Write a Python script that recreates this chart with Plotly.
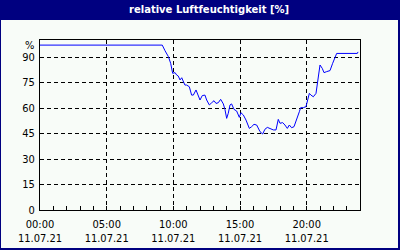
import plotly.graph_objects as go
import pandas as pd

# --- data (hours since 11.07.21 00:00, relative humidity %) ---
hours = [0.0, 9.17, 9.375, 9.55, 9.63, 9.8, 9.88, 9.95, 10.13, 10.25, 10.37, 10.5, 10.63, 10.75,
         10.87, 11.0, 11.2, 11.37, 11.5, 11.7, 11.83, 12.0, 12.17, 12.37, 12.5, 12.7, 12.88,
         13.05, 13.2, 13.37, 13.55, 13.75, 13.87, 14.0, 14.12, 14.25, 14.37, 14.55, 14.75,
         14.95, 15.07, 15.25, 15.45, 15.7, 15.87, 16.05, 16.25, 16.5, 16.7, 16.87, 17.05,
         17.3, 17.5, 17.7, 17.87, 18.0, 18.2, 18.37, 18.55, 18.7, 18.87, 19.05, 19.25, 19.45,
         19.55, 19.75, 19.95, 20.05, 20.2, 20.32, 20.5, 20.7, 20.83, 21.0, 21.17, 21.3, 21.5,
         21.75, 21.95, 22.12, 22.25, 23.8, 23.85]
humidity = [97, 97, 93.7, 91.8, 90.2, 86.3, 83.3, 80.4, 80.8, 79.4, 78.8, 76.5, 77.8, 75.5,
            73.5, 73.5, 72.5, 67.6, 67.6, 70.6, 67.6, 64.7, 67.3, 67.6, 64.7, 61.8, 63.1,
            64.3, 62.7, 63.1, 65.1, 62.4, 59.2, 53.9, 56.9, 61.8, 62.4, 59.2, 58.2,
            54.5, 57.2, 55.9, 52.9, 48.0, 49.0, 50.4, 50.0, 46.1, 44.7, 47.5, 48.6,
            48.0, 47.1, 47.1, 53.3, 51.0, 51.4, 50.0, 48.0, 50.0, 48.4, 49.0, 52.9, 57.8,
            60.2, 60.2, 60.8, 64.7, 68.6, 67.6, 66.6, 68.6, 76.5, 85.3, 83.3, 80.8, 81.4,
            82.0, 86.3, 90.2, 92.1, 92.1, 93.0]

y_ticks = [0, 15, 30, 45, 60, 75, 90]
x_tick_hours = [0, 5, 10, 15, 20]
x_tick_times = ["00:00", "05:00", "10:00", "15:00", "20:00"]
x_tick_dates = ["11.07.21", "11.07.21", "11.07.21", "11.07.21", "11.07.21"]
title = "relative Luftfeuchtigkeit [%]"
unit_label = "%"

base = pd.Timestamp("2021-07-11 00:00")
times = [base + pd.Timedelta(hours=h) for h in hours]
tick_vals = [base + pd.Timedelta(hours=h) for h in x_tick_hours]
x_range = [base, base + pd.Timedelta(hours=24)]

W, H = 400, 250
L, R, T, B = 40, 40, 40, 40
pw, ph = W - L - R, H - T - B

def px_x(px):
    return (px - L) / pw

def px_y(py):
    return (H - B - py) / ph

FONT = "Liberation Sans Narrow, DejaVu Sans Condensed, sans-serif"
BG = "#f8fcf8"
NAVY = "#000080"

fig = go.Figure()
fig.add_trace(go.Scatter(x=times, y=humidity, mode="lines",
                         line=dict(color="#0000ff", width=1, shape="linear"),
                         hoverinfo="skip"))
# invisible trace to activate the date-label axis
fig.add_trace(go.Scatter(x=[times[0]], y=[humidity[0]], xaxis="x2", mode="markers",
                         marker=dict(opacity=0), hoverinfo="skip"))

fig.update_layout(
    width=W, height=H,
    margin=dict(l=L, r=R, t=T, b=B, pad=0, autoexpand=False),
    paper_bgcolor=NAVY,
    plot_bgcolor=BG,
    showlegend=False,
    font=dict(family=FONT, size=11, color="black"),
    shapes=[dict(type="rect", xref="paper", yref="paper", layer="below",
                 x0=px_x(1), x1=px_x(398), y0=px_y(248), y1=px_y(20),
                 fillcolor=BG, line=dict(width=0))],
    annotations=[
        dict(text="<b>" + title + "</b>", xref="paper", yref="paper",
             x=px_x(209), y=px_y(10), xanchor="center", yanchor="middle",
             showarrow=False, font=dict(family="DejaVu Sans, sans-serif", size=10, color="white")),
        dict(text=unit_label, xref="paper", yref="y", x=px_x(36), y=97,
             xanchor="right", yanchor="middle", showarrow=False,
             font=dict(family=FONT, size=11, color="black")),
    ],
    xaxis=dict(
        type="date", range=x_range, automargin=False,
        tickvals=tick_vals, ticktext=x_tick_times,
        ticks="inside", ticklen=4, tickcolor="black", ticklabelstandoff=4,
        minor=dict(dtick=3600000, ticks="inside", ticklen=4, tickcolor="black", showgrid=False),
        showgrid=True, gridcolor="black", griddash="4px,3px", gridwidth=1,
        showline=True, linecolor="black", linewidth=1, mirror=True,
        zeroline=False, fixedrange=True,
    ),
    xaxis2=dict(
        type="date", range=x_range, overlaying="x", anchor="y", side="bottom",
        automargin=False,
        tickvals=tick_vals, ticktext=x_tick_dates,
        ticks="", ticklabelstandoff=20,
        showgrid=False, showline=False, zeroline=False, fixedrange=True,
    ),
    yaxis=dict(
        range=[0, 100], automargin=False,
        tickvals=y_ticks, ticks="", ticklabelstandoff=2,
        showgrid=True, gridcolor="black", griddash="4px,3px", gridwidth=1,
        showline=True, linecolor="black", linewidth=1, mirror=True,
        zeroline=False, fixedrange=True,
    ),
)

fig.write_html("out.html", config={"displayModeBar": False})
